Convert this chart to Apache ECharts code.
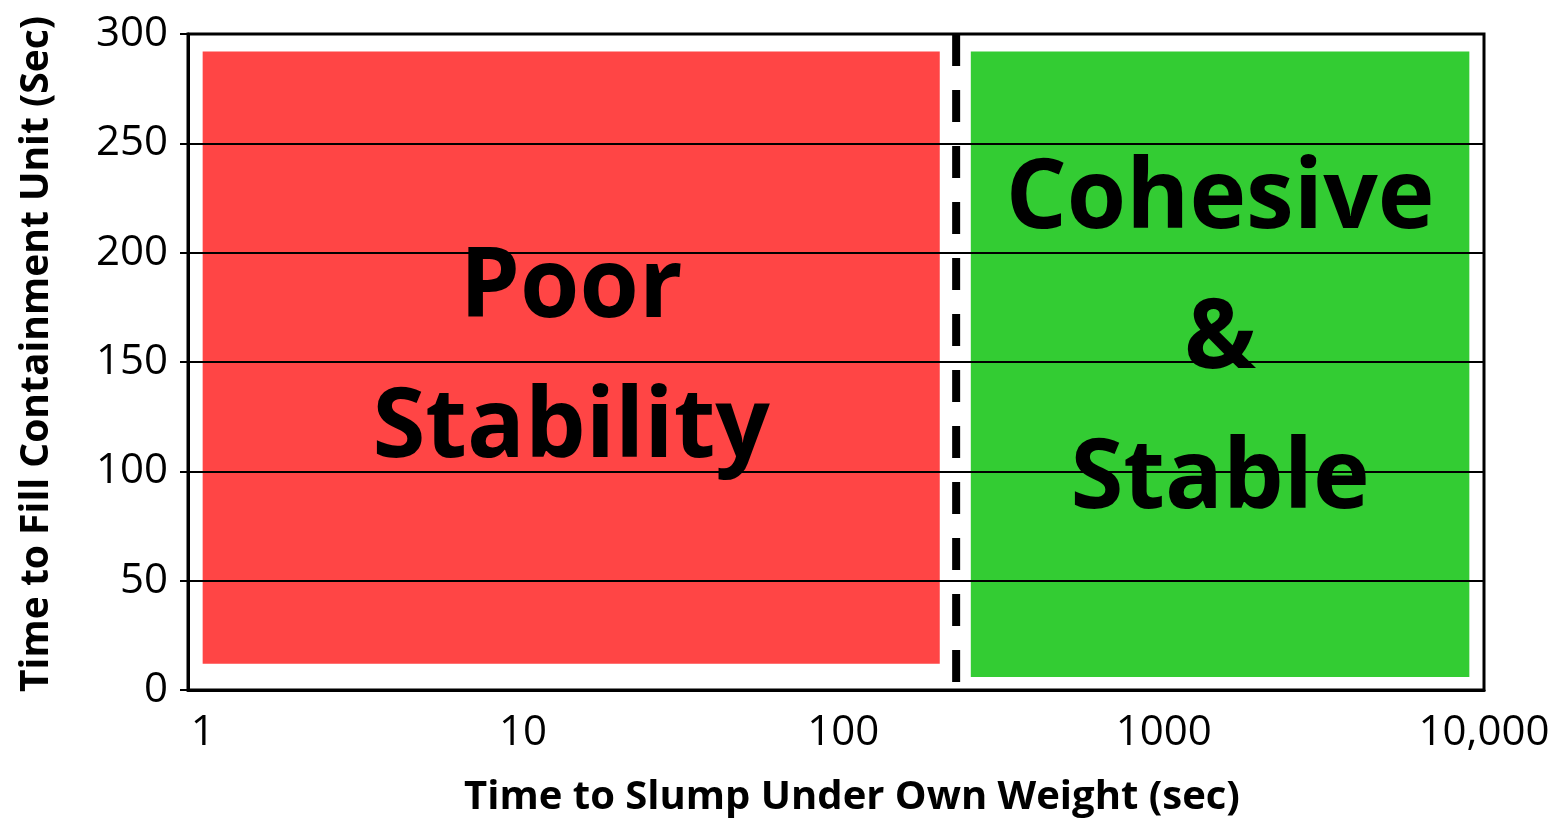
<!DOCTYPE html>
<html>
<head>
<meta charset="utf-8">
<script src="https://cdn.jsdelivr.net/npm/echarts@6/dist/echarts.min.js"></script>
<style>
  html, body { margin: 0; padding: 0; background: #fff; }
  #chart { width: 1566px; height: 819px; }
</style>
</head>
<body>
<div id="chart"></div>
<script>
  // zones (x on log scale, seconds)
  const zoneLabels = ['Poor\nStability', 'Cohesive\n&\nStable']
  const zoneXStart = [1, 250]
  const zoneXEnd = [200, 9000]
  const zoneYStart = [12, 6]
  const zoneYEnd = [292, 292]

  // dashed boundary between zones
  const boundaryX = 225
  const boundaryY = [300, 0]

  const xTickValues = [1, 10, 100, 1000, 10000]
  const xTickLabels = ['1', '10', '100', '1000', '10,000']
  const yMin = 0
  const yMax = 300
  const yStep = 50

  const zoneFill = ['#ff4545', '#33cc33']
  const zoneTextOffset = [[0, 2], [0, -24]]

  const chart = echarts.init(document.getElementById('chart'))

  const zoneData = zoneLabels.map((name, i) => [zoneXStart[i], zoneYStart[i], zoneXEnd[i], zoneYEnd[i], i])

  const renderZone = (params, api) => {
    const i = api.value(4)
    const p0 = api.coord([api.value(0), api.value(1)])
    const p1 = api.coord([api.value(2), api.value(3)])
    return {
      type: 'rect',
      shape: { x: p0[0], y: p1[1], width: p1[0] - p0[0], height: p0[1] - p1[1] },
      style: { fill: zoneFill[i] },
      textContent: {
        style: {
          text: zoneLabels[i],
          fill: '#000',
          fontFamily: 'Open Sans',
          fontWeight: 'bold',
          fontSize: 96,
          lineHeight: 140,
          align: 'center',
          verticalAlign: 'middle'
        }
      },
      textConfig: { position: 'inside', offset: zoneTextOffset[i] }
    }
  }

  const option = {
    animation: false,
    backgroundColor: '#fff',
    textStyle: { fontFamily: 'Open Sans' },
    grid: {
      left: 188,
      right: 82,
      top: 34,
      bottom: 129,
      containLabel: false,
      outerBoundsMode: 'none',
      show: true,
      borderColor: '#000',
      borderWidth: 3,
      backgroundColor: 'transparent'
    },
    xAxis: {
      type: 'log',
      min: 0.9,
      max: 10000,
      z: 5,
      name: 'Time to Slump Under Own Weight (sec)',
      nameLocation: 'middle',
      nameGap: 88,
      nameTextStyle: {
        color: '#000',
        fontSize: 40,
        fontWeight: 'bold',
        fontFamily: 'Open Sans',
        padding: [0, 0, 0, 32]
      },
      axisLine: { show: true, lineStyle: { color: '#000', width: 3 } },
      axisTick: { show: false },
      splitLine: { show: false },
      axisLabel: {
        color: '#000',
        fontSize: 42,
        margin: 22,
        showMinLabel: true,
        showMaxLabel: true,
        formatter: (v) => {
          const idx = xTickValues.findIndex((t) => Math.abs(Math.log10(v) - Math.log10(t)) < 1e-6)
          return idx >= 0 ? xTickLabels[idx] : ''
        }
      }
    },
    yAxis: {
      type: 'value',
      min: yMin,
      max: yMax,
      interval: yStep,
      z: 5,
      name: 'Time to Fill Containment Unit (Sec)',
      nameLocation: 'middle',
      nameGap: 132,
      nameTextStyle: {
        color: '#000',
        fontSize: 39,
        fontWeight: 'bold',
        fontFamily: 'Open Sans',
        padding: [0, 0, 0, 16]
      },
      axisLine: { show: true, lineStyle: { color: '#000', width: 3 } },
      axisTick: { show: true, length: 8, lineStyle: { color: '#000', width: 2 } },
      splitLine: { show: true, lineStyle: { color: '#000', width: 2 } },
      axisLabel: { color: '#000', fontSize: 42, margin: 20, padding: [0, 0, 8, 0] }
    },
    series: [
      {
        type: 'custom',
        z: 2,
        silent: true,
        renderItem: renderZone,
        encode: { x: [0, 2], y: [1, 3] },
        data: zoneData
      },
      {
        type: 'line',
        z: 6,
        silent: true,
        symbol: 'none',
        lineStyle: { color: '#000', width: 8, type: [32, 24] },
        data: boundaryY.map((y) => [boundaryX, y])
      }
    ]
  }

  chart.setOption(option)
</script>
</body>
</html>
